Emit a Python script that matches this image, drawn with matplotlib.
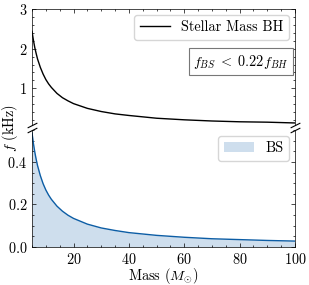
import matplotlib
matplotlib.use('Agg')
import matplotlib.pyplot as plt
from matplotlib.ticker import MultipleLocator, AutoMinorLocator

# values
mass = [5, 5.5, 6, 6.5, 7, 8, 9, 10, 11, 12, 14, 16, 18, 20, 25, 30, 35,
        40, 50, 60, 70, 80, 90, 100]
f_bh = [2.44, 2.22, 2.03, 1.88, 1.74, 1.53, 1.36, 1.22, 1.11, 1.02, 0.87,
        0.76, 0.68, 0.61, 0.49, 0.41, 0.35, 0.31, 0.24, 0.20, 0.17, 0.15,
        0.14, 0.12]
f_bs = [0.537, 0.488, 0.447, 0.413, 0.383, 0.336, 0.298, 0.268, 0.244,
        0.224, 0.192, 0.168, 0.149, 0.134, 0.107, 0.089, 0.077, 0.067,
        0.054, 0.045, 0.038, 0.034, 0.030, 0.027]

blue = '#0C5DA5'

plt.rcParams.update({
    'font.family': 'serif',
    'font.serif': ['cmr10'],
    'mathtext.fontset': 'cm',
    'axes.formatter.use_mathtext': True,
    'font.size': 10.3,
    'axes.linewidth': 0.5,
    'xtick.direction': 'in',
    'ytick.direction': 'in',
    'xtick.top': True,
    'ytick.right': True,
    'xtick.major.size': 3,
    'ytick.major.size': 3,
    'xtick.minor.size': 1.5,
    'ytick.minor.size': 1.5,
    'xtick.major.width': 0.5,
    'ytick.major.width': 0.5,
    'xtick.minor.width': 0.5,
    'ytick.minor.width': 0.5,
    'xtick.minor.visible': True,
    'ytick.minor.visible': True,
    'legend.fancybox': True,
    'legend.edgecolor': '#cccccc',
})

fig = plt.figure(figsize=(3.09, 2.85), dpi=100)
ax1 = fig.add_axes([0.1036, 0.563, 0.8511, 0.4043])
ax2 = fig.add_axes([0.1036, 0.134, 0.8511, 0.409])

# top panel - black hole
ax1.plot(mass, f_bh, color='k', lw=1, label='Stellar Mass BH')
ax1.set_xlim(5, 100)
ax1.set_ylim(0.08, 3)
ax1.yaxis.set_major_locator(MultipleLocator(1))
ax1.xaxis.set_major_locator(MultipleLocator(20))
ax1.xaxis.set_minor_locator(AutoMinorLocator())
ax1.spines['bottom'].set_visible(False)
ax1.tick_params(axis='x', which='both', bottom=False, labelbottom=False)
ax1.legend(loc='upper right', handlelength=2.1, borderaxespad=0.4)
ax1.text(0.975, 0.547, r'$f_{BS}\;<\;0.22f_{BH}$', transform=ax1.transAxes,
         ha='right', va='center',
         bbox=dict(boxstyle='square,pad=0.3', fc='white', ec='#777777', lw=0.8))

# bottom panel - boson star
ax2.fill_between(mass, 0, f_bs, color=blue, alpha=0.2, lw=0, label='BS')
ax2.plot(mass, f_bs, color=blue, lw=1)
ax2.set_xlim(5, 100)
ax2.set_ylim(0, 0.55)
ax2.yaxis.set_major_locator(MultipleLocator(0.2))
ax2.xaxis.set_major_locator(MultipleLocator(20))
ax2.spines['top'].set_visible(False)
ax2.tick_params(axis='x', which='both', top=False)
ax2.legend(loc='upper right', handlelength=2.1, borderaxespad=0.4)
ax2.set_xlabel(r'Mass ($M_{\odot}$)', va='center')
ax2.xaxis.set_label_coords(0.5, -0.25)

# break marks
kw = dict(marker=[(-1, -0.5), (1, 0.5)], markersize=7, linestyle='none',
          color='k', mec='k', mew=0.8, clip_on=False)
ax1.plot([0, 1], [0, 0], transform=ax1.transAxes, **kw)
ax2.plot([0, 1], [1, 1], transform=ax2.transAxes, **kw)

fig.text(0.032, 0.55, r'$f$ (kHz)', rotation=90, ha='center', va='center')

fig.savefig('out.png', dpi=100)
